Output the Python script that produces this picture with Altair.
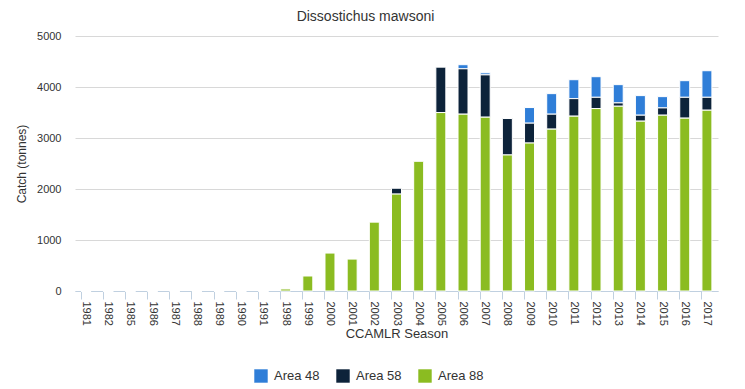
import altair as alt
import pandas as pd

seasons = ["1981", "1982", "1985", "1986", "1987", "1988", "1989", "1990", "1991",
           "1998", "1999", "2000", "2001", "2002", "2003", "2004", "2005", "2006",
           "2007", "2008", "2009", "2010", "2011", "2012", "2013", "2014", "2015",
           "2016", "2017"]
area48 = [0, 0, 0, 0, 0, 0, 0, 0, 0,
          0, 0, 0, 0, 0, 0, 0, 0, 80,
          40, 0, 306, 403, 371, 404, 358, 384, 221,
          326, 521]
area58 = [0, 0, 0, 0, 0, 0, 0, 0, 0,
          0, 0, 0, 0, 0, 115, 0, 890, 890,
          830, 715, 390, 293, 344, 221, 65, 117, 143,
          409, 253]
area88 = [0, 0, 0, 0, 0, 0, 0, 0, 0,
          40, 294, 744, 626, 1350, 1900, 2543, 3499, 3467,
          3408, 2667, 2901, 3174, 3428, 3577, 3623, 3330, 3447,
          3389, 3545]

series = ["Area 48", "Area 58", "Area 88"]
colors = ["#2f7ed8", "#0d233a", "#8bbc21"]
stack_rank = {"Area 88": 0, "Area 58": 1, "Area 48": 2}

rows = []
for name, vals in zip(series, [area48, area58, area88]):
    for s, v in zip(seasons, vals):
        rows.append({"Season": s, "Area": name, "Catch": v, "rank": stack_rank[name]})
df = pd.DataFrame(rows)

chart = alt.Chart(df).mark_bar(stroke="white", strokeWidth=1).encode(
    x=alt.X("Season:N", sort=seasons,
            scale=alt.Scale(paddingInner=0.55, paddingOuter=0.275),
            axis=alt.Axis(title="CCAMLR Season", labelAngle=90, labelAlign="left",
                          labelBaseline="middle", bandPosition=0, tickSize=8,
                          labelPadding=2, tickColor="#c0d0e0", domainColor="#c0d0e0",
                          labelColor="#333333", labelFontSize=11, titleFontSize=13,
                          titleFontWeight="normal", titleColor="#333333",
                          titlePadding=2, labelFont="Liberation Sans",
                          titleFont="Liberation Sans")),
    y=alt.Y("Catch:Q", stack="zero",
            scale=alt.Scale(domain=[0, 5000]),
            axis=alt.Axis(title="Catch (tonnes)", values=[0, 1000, 2000, 3000, 4000, 5000],
                          format="d",
                          domain=False, ticks=False, gridColor="#d8d8d8",
                          labelColor="#333333", labelFontSize=11, labelPadding=14,
                          titleFontSize=12, titleFontWeight="normal", titleColor="#333333",
                          titlePadding=8, labelFont="Liberation Sans",
                          titleFont="Liberation Sans")),
    color=alt.Color("Area:N", scale=alt.Scale(domain=series, range=colors),
                    legend=alt.Legend(title=None, orient="none", direction="horizontal",
                                      legendX=179, legendY=333, symbolType="square",
                                      symbolSize=180, symbolStrokeWidth=0,
                                      labelFontSize=13, labelColor="#333333",
                                      labelFont="Liberation Sans", labelOffset=6,
                                      columnPadding=16)),
    order=alt.Order("rank:Q", sort="ascending"),
).properties(
    width=643, height=255,
    title=alt.TitleParams("Dissostichus mawsoni", fontSize=14, fontWeight="normal",
                          color="#333333", font="Liberation Sans", offset=6, dx=-31),
    autosize=alt.AutoSizeParams(type="none"),
    padding={"left": 67, "top": 28, "right": 11, "bottom": 98},
).configure_view(stroke=None)

chart.save("out.html", embed_options={"renderer": "svg", "actions": False})
